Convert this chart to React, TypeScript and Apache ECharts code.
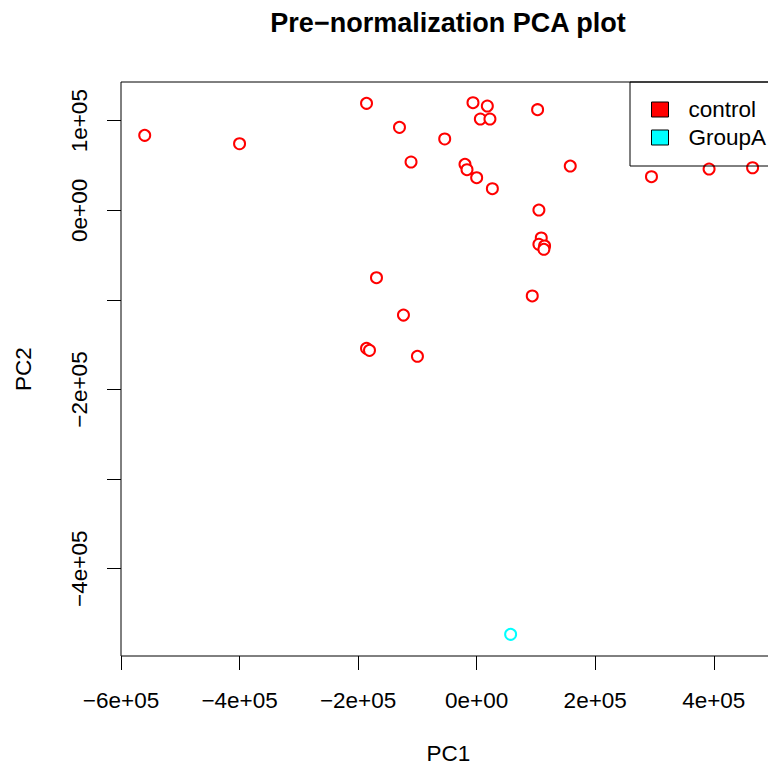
import { useEffect, useRef } from 'react'
import * as echarts from 'echarts'

// PCA scores (PC1, PC2)
const controlPC1 = [
  -560000, -400000, -185800, -6200, 18000, 102800, -130200, 6200, 22400, -53900,
  -110700, -19700, -16300, 0, 26500, 157900, 294900, 392100, 465500, 105000,
  109000, 105000, 114600, 113400, -169000, 93800, -123500, -185800, -180800, -99900,
]
const controlPC2 = [
  83700, 74300, 119400, 120100, 116400, 112300, 92600, 101900, 101900, 79600,
  53900, 51300, 45300, 36400, 24100, 49400, 37500, 46100, 47500, 300,
  -30900, -37900, -39800, -43500, -75200, -95600, -116900, -154000, -156300, -162900,
]
const groupAPC1 = [57300]
const groupAPC2 = [-473200]

const groups = ['control', 'GroupA']
const groupColors = ['#FF0000', '#00FFFF']

const xTicks = [-600000, -400000, -200000, 0, 200000, 400000]
const xTickLabels = ['−6e+05', '−4e+05', '−2e+05', '0e+00', '2e+05', '4e+05']
const yTicks = [-400000, -300000, -200000, -100000, 0, 100000]
const yLabelTicks = [-400000, -200000, 0, 100000]
const yTickLabels = ['−4e+05', '−2e+05', '0e+00', '1e+05']

const FONT = '"Liberation Sans", Arial, Helvetica, sans-serif'

export default function App() {
  const chartRef = useRef<HTMLDivElement>(null)

  useEffect(() => {
    if (!chartRef.current) return
    document.body.style.margin = '0'
    // the plot region runs past the right edge of the page, as in the R device
    const chart = echarts.init(chartRef.current, undefined, { renderer: 'svg' })

    const toPairs = (xs: number[], ys: number[]) => xs.map((x, i) => [x, ys[i]])

    const option: echarts.EChartsOption = {
      animation: false,
      backgroundColor: '#ffffff',
      textStyle: { fontFamily: FONT },
      graphic: [
        {
          type: 'text',
          x: 448,
          y: 23,
          style: {
            text: 'Pre−normalization PCA plot',
            fontFamily: FONT,
            fontSize: 27,
            fontWeight: 'bold',
            fill: '#000',
            align: 'center',
            verticalAlign: 'middle',
          },
        },
      ],
      grid: {
        left: 121,
        top: 82,
        width: 655,
        height: 574,
        show: true,
        borderColor: '#000',
        borderWidth: 1,
        outerBoundsMode: 'none',
      } as any,
      legend: {
        orient: 'vertical',
        left: 630,
        top: 82,
        padding: [16, 24, 17, 21],
        itemGap: 5,
        itemWidth: 17,
        itemHeight: 15,
        borderColor: '#000',
        borderWidth: 1,
        icon: 'rect',
        textStyle: {
          fontFamily: FONT,
          fontSize: 22.5,
          lineHeight: 22,
          color: '#000',
          padding: [0, 0, 0, 15],
        },
        data: groups.map((name, i) => ({
          name,
          icon: 'rect',
          itemStyle: { color: groupColors[i], borderColor: '#000', borderWidth: 1, opacity: 1 },
        })),
      },
      xAxis: {
        type: 'value',
        min: -600000,
        max: 505000,
        name: 'PC1',
        nameLocation: 'middle',
        nameGap: 86,
        nameTextStyle: { fontFamily: FONT, fontSize: 22.5, color: '#000', verticalAlign: 'top' },
        splitLine: { show: false },
        axisLine: { show: false, onZero: false },
        axisTick: {
          show: true,
          inside: false,
          length: 14,
          customValues: xTicks,
          lineStyle: { color: '#000', width: 1 },
        },
        axisLabel: {
          customValues: xTicks,
          margin: 33,
          fontFamily: FONT,
          fontSize: 22.5,
          color: '#000',
          formatter: (v: number) => xTickLabels[xTicks.indexOf(v)] ?? '',
        },
      },
      yAxis: {
        type: 'value',
        min: -497400,
        max: 143200,
        name: 'PC2',
        nameLocation: 'middle',
        nameGap: 86,
        nameRotate: 90,
        nameTextStyle: { fontFamily: FONT, fontSize: 22.5, color: '#000' },
        splitLine: { show: false },
        axisLine: { show: false, onZero: false },
        axisTick: {
          show: true,
          inside: false,
          length: 14,
          customValues: yTicks,
          lineStyle: { color: '#000', width: 1 },
        },
        axisLabel: {
          customValues: yLabelTicks,
          rotate: 90,
          margin: 30,
          fontFamily: FONT,
          fontSize: 22.5,
          color: '#000',
          formatter: (v: number) => yTickLabels[yLabelTicks.indexOf(v)] ?? '',
        },
      },
      series: [
        {
          name: 'control',
          type: 'scatter',
          symbol: 'emptyCircle',
          symbolSize: 11,
          itemStyle: { color: groupColors[0], borderColor: groupColors[0], borderWidth: 1.5, opacity: 1 },
          data: toPairs(controlPC1, controlPC2),
        },
        {
          name: 'GroupA',
          type: 'scatter',
          symbol: 'emptyCircle',
          symbolSize: 11,
          itemStyle: { color: groupColors[1], borderColor: groupColors[1], borderWidth: 1.5, opacity: 1 },
          data: toPairs(groupAPC1, groupAPC2),
        },
      ],
    }

    chart.setOption(option)

    return () => {
      chart.dispose()
    }
  }, [])

  return (
    <div style={{ width: '768px', height: '768px', overflow: 'hidden' }}>
      <div ref={chartRef} style={{ width: '800px', height: '768px' }} />
    </div>
  )
}
